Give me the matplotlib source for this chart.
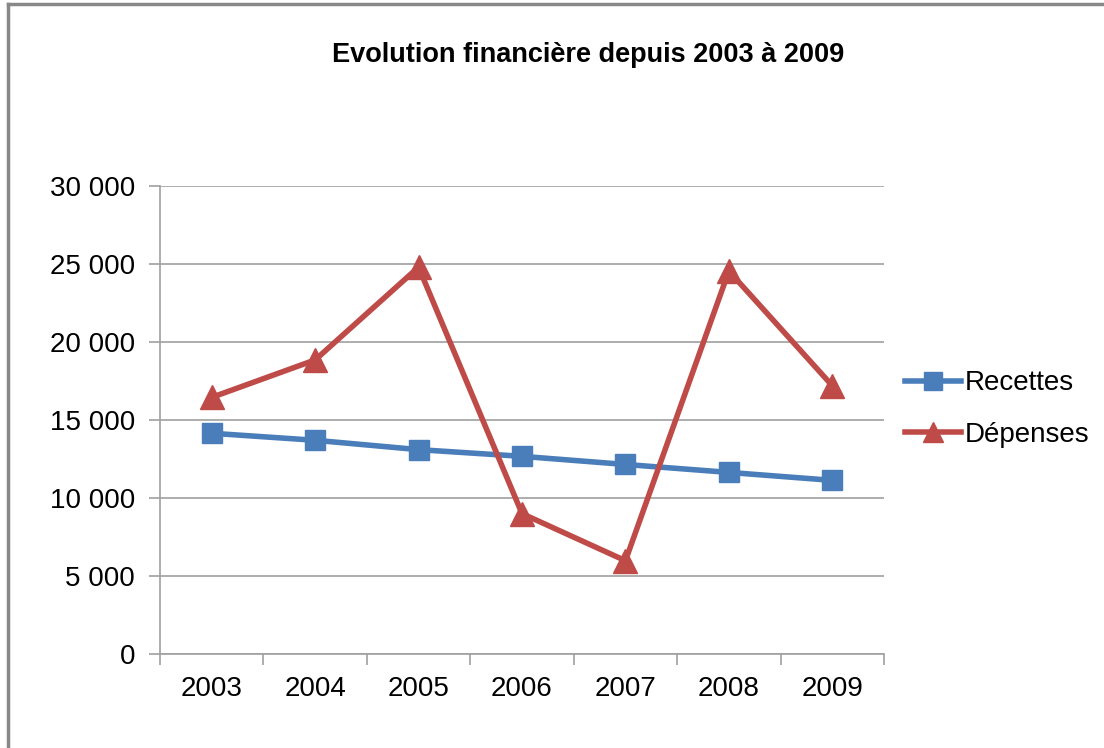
import matplotlib.pyplot as plt
from matplotlib.lines import Line2D
from matplotlib.ticker import FuncFormatter

# values
years = ["2003", "2004", "2005", "2006", "2007", "2008", "2009"]
recettes = [14150, 13700, 13100, 12670, 12150, 11640, 11130]
depenses = [16450, 18850, 24800, 9000, 5980, 24550, 17200]

plt.rcParams['font.family'] = ['Liberation Sans', 'DejaVu Sans']

fig = plt.figure(figsize=(11.04, 7.48), dpi=100)
W, H = 1104, 748
ax = fig.add_axes([160 / W, 1 - 654 / H, (884 - 160) / W, (654 - 186) / H])

x = range(len(years))
ax.plot(x, recettes, color='#4a7ebb', lw=4, marker='s', ms=15,
        label='Recettes', solid_capstyle='round')
ax.plot(x, depenses, color='#be4b48', lw=4, marker='^', ms=17,
        label='Dépenses', solid_capstyle='round')

ax.set_xlim(-0.5, len(years) - 0.5)
ax.set_ylim(0, 30000)
ax.set_yticks(range(0, 30001, 5000))
ax.yaxis.set_major_formatter(FuncFormatter(lambda v, p: f"{int(v):,}".replace(",", " ")))
ax.set_xticks(list(x))
ax.set_xticklabels(years)
ax.set_xticks([i - 0.5 for i in range(len(years) + 1)], minor=True)

ax.grid(axis='y', color='#a0a0a0', lw=1.2)
ax.set_axisbelow(True)
for s in ['top', 'right']:
    ax.spines[s].set_visible(False)
for s in ['left', 'bottom']:
    ax.spines[s].set_color('#a0a0a0')
    ax.spines[s].set_linewidth(1.2)

ax.tick_params(axis='x', which='major', length=0, pad=16, labelsize=20)
ax.tick_params(axis='x', which='minor', length=8, color='#a0a0a0', width=1.2)
ax.tick_params(axis='y', length=8, color='#a0a0a0', width=1.2, pad=10, labelsize=20)

fig.text(588 / W, 1 - 55 / H, "Evolution financière depuis 2003 à 2009",
         ha='center', va='center', fontsize=19.5, fontweight='bold')

handles = [Line2D([], [], color='#4a7ebb', lw=4, marker='s', ms=13),
           Line2D([], [], color='#be4b48', lw=4, marker='^', ms=14)]
fig.legend(handles, ['Recettes', 'Dépenses'], loc='center left',
           bbox_to_anchor=(880 / W, 1 - 409 / H), frameon=False,
           fontsize=20, handlelength=2.0, handletextpad=0.15, labelspacing=0.9)

# outer chart border (only left and top edges visible in the reference)
fig.add_artist(Line2D([8 / W, 8 / W], [0, 1 - 4 / H], color='#888888', lw=2.5))
fig.add_artist(Line2D([8 / W, 1], [1 - 4 / H, 1 - 4 / H], color='#888888', lw=2.5))

fig.savefig('out.png', dpi=100)
